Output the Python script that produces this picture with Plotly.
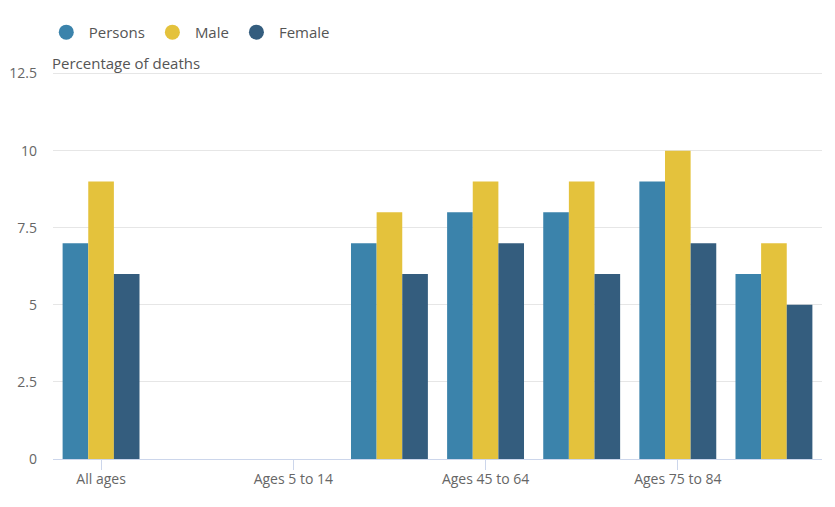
import plotly.graph_objects as go

categories = ["All ages", "Ages 0 to 4", "Ages 5 to 14", "Ages 15 to 44",
              "Ages 45 to 64", "Ages 65 to 74", "Ages 75 to 84", "Ages 85+"]
persons = [7, 0, 0, 7, 8, 8, 9, 6]
male = [9, 0, 0, 8, 9, 9, 10, 7]
female = [6, 0, 0, 6, 7, 6, 7, 5]
tick_labels = ["All ages", "Ages 5 to 14", "Ages 45 to 64", "Ages 75 to 84"]
y_ticks = [0, 2.5, 5, 7.5, 10, 12.5]

series = [("Persons", persons, "#3b83ab"),
          ("Male", male, "#e4c23c"),
          ("Female", female, "#345d7e")]

fig = go.Figure()
for name, vals, color in series:
    fig.add_trace(go.Bar(x=categories, y=vals, name=name, marker_color=color,
                         marker_line_width=0, showlegend=False))
for name, vals, color in series:
    fig.add_trace(go.Scatter(x=[None], y=[None], mode="markers", name=name,
                             marker=dict(symbol="circle", size=15, color=color)))

fig.update_layout(
    width=827, height=499,
    margin=dict(l=45, r=13, t=64, b=48, autoexpand=False),
    plot_bgcolor="white", paper_bgcolor="white",
    font=dict(family="Open Sans", size=14, color="#666666"),
    barmode="group", bargap=0.2, bargroupgap=0,
    legend=dict(orientation="h", x=-0.012, xanchor="left", y=1.145, yanchor="top",
                font=dict(size=15, color="#555555"), itemwidth=35,
                traceorder="normal"),
    annotations=[dict(text="Percentage of deaths", xref="paper", yref="paper",
                      x=0, y=1.0, xanchor="left", yanchor="bottom", showarrow=False,
                      xshift=-3, yshift=-3, font=dict(size=15, color="#555555"))],
)
fig.update_xaxes(type="category", tickmode="array", tickvals=tick_labels, ticktext=tick_labels,
                 ticks="outside", ticklen=10, tickcolor="#ccd6eb", automargin=False,
                 showline=True, linecolor="#ccd6eb", linewidth=1, ticklabelstandoff=-3,
                 showgrid=False, tickfont=dict(size=14, color="#666666"))
fig.update_yaxes(range=[0, 12.55], tickmode="array", tickvals=y_ticks,
                 ticktext=[str(t) for t in y_ticks], automargin=False,
                 showgrid=True, gridcolor="#e6e6e6", zeroline=False,
                 ticks="", ticklabelstandoff=15,
                 tickfont=dict(size=14, color="#666666"))

fig.write_html("out.html")
